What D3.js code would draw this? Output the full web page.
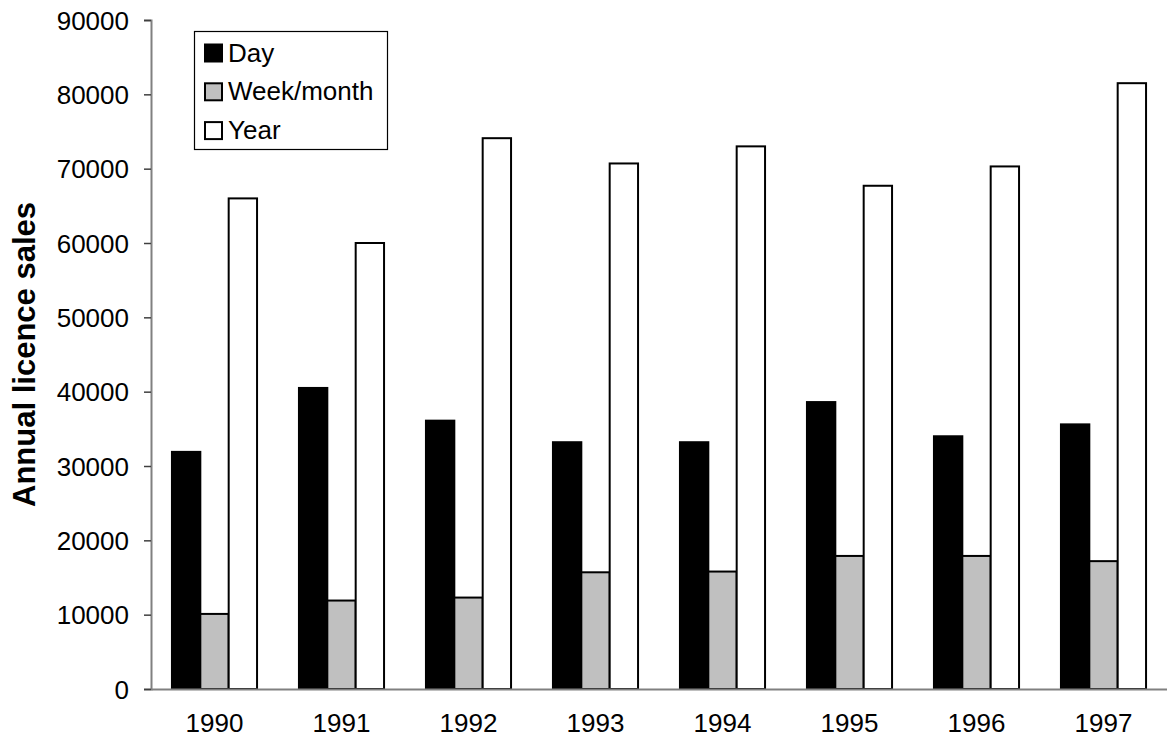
<!DOCTYPE html>
<html>
<head>
<meta charset="utf-8">
<script src="https://cdn.jsdelivr.net/npm/d3@7"></script>
<style>
  html, body { margin: 0; padding: 0; background: #fff; }
  svg { display: block; font-family: "Liberation Sans", Arial, sans-serif; }
</style>
</head>
<body>
<svg id="chart" width="1167" height="740"></svg>
<script>
// Annual licence sales by licence type, 1990-1997
const years = ["1990", "1991", "1992", "1993", "1994", "1995", "1996", "1997"];
const seriesNames = ["Day", "Week/month", "Year"];
const daySales = [31900, 40500, 36100, 33200, 33200, 38600, 34000, 35600];
const weekMonthSales = [10100, 11900, 12300, 15700, 15800, 17900, 17900, 17200];
const yearSales = [66000, 60000, 74100, 70700, 73000, 67700, 70300, 81500];
const yTicks = [0, 10000, 20000, 30000, 40000, 50000, 60000, 70000, 80000, 90000];

const seriesValues = [daySales, weekMonthSales, yearSales];
const fills = ["#000000", "#c0c0c0", "#ffffff"];

const svg = d3.select("#chart");
const plotLeft = 151, plotRight = 1167, plotTop = 20, plotBottom = 689;

const x0 = d3.scaleBand().domain(years).range([plotLeft, plotRight])
  .paddingInner(0.33).paddingOuter(0.165);
const x1 = d3.scaleBand().domain(seriesNames).range([0, x0.bandwidth()]);
const y = d3.scaleLinear().domain([0, 90000]).range([plotBottom, plotTop]);

// bars
const rows = years.map((yr, i) => ({ year: yr, vals: seriesNames.map((s, j) => ({ s, j, v: seriesValues[j][i] })) }));
const g = svg.append("g").selectAll("g").data(rows).join("g")
  .attr("transform", d => `translate(${x0(d.year)},0)`);
g.selectAll("rect").data(d => d.vals).join("rect")
  .attr("x", d => x1(d.s))
  .attr("y", d => y(d.v))
  .attr("width", x1.bandwidth())
  .attr("height", d => y(0) - y(d.v))
  .attr("fill", d => fills[d.j])
  .attr("stroke", "#000")
  .attr("stroke-width", 2);

// y axis
const yAxis = svg.append("g").attr("transform", `translate(${plotLeft},0)`)
  .call(d3.axisLeft(y).tickValues(yTicks).tickFormat(d3.format("d")).tickSize(7).tickPadding(15));
yAxis.select(".domain").attr("stroke", "#808080").attr("stroke-width", 2);
yAxis.selectAll(".tick line").attr("stroke", "#404040").attr("stroke-width", 1.5);
yAxis.selectAll(".tick text").attr("font-size", 26).attr("fill", "#000")
  .attr("font-family", "'Liberation Sans', Arial, sans-serif").attr("dy", "0.35em");

// x axis
const xAxis = svg.append("g").attr("transform", `translate(0,${plotBottom})`)
  .call(d3.axisBottom(x0).tickSize(0).tickPadding(25).tickSizeOuter(0));
xAxis.select(".domain").attr("stroke", "#808080").attr("stroke-width", 2);
xAxis.selectAll(".tick text").attr("font-size", 26).attr("fill", "#000")
  .attr("font-family", "'Liberation Sans', Arial, sans-serif");

// y axis title
svg.append("text")
  .attr("transform", `translate(35,${(plotTop + plotBottom) / 2}) rotate(-90)`)
  .attr("text-anchor", "middle")
  .attr("font-size", 31).attr("font-weight", "bold")
  .text("Annual licence sales");

// legend
const lg = svg.append("g");
lg.append("rect").attr("x", 194.5).attr("y", 31.5).attr("width", 193).attr("height", 118)
  .attr("fill", "#fff").attr("stroke", "#000").attr("stroke-width", 1.2);
const items = lg.selectAll("g.item").data(seriesNames).join("g").attr("class", "item")
  .attr("transform", (d, i) => `translate(0,${61.5 + i * 38.8})`);
items.append("rect").attr("x", 205).attr("y", -17).attr("width", 17).attr("height", 17)
  .attr("fill", (d, i) => fills[i]).attr("stroke", "#000").attr("stroke-width", 2);
items.append("text").attr("x", 228).attr("y", 0).attr("font-size", 26).text(d => d);
</script>
</body>
</html>
